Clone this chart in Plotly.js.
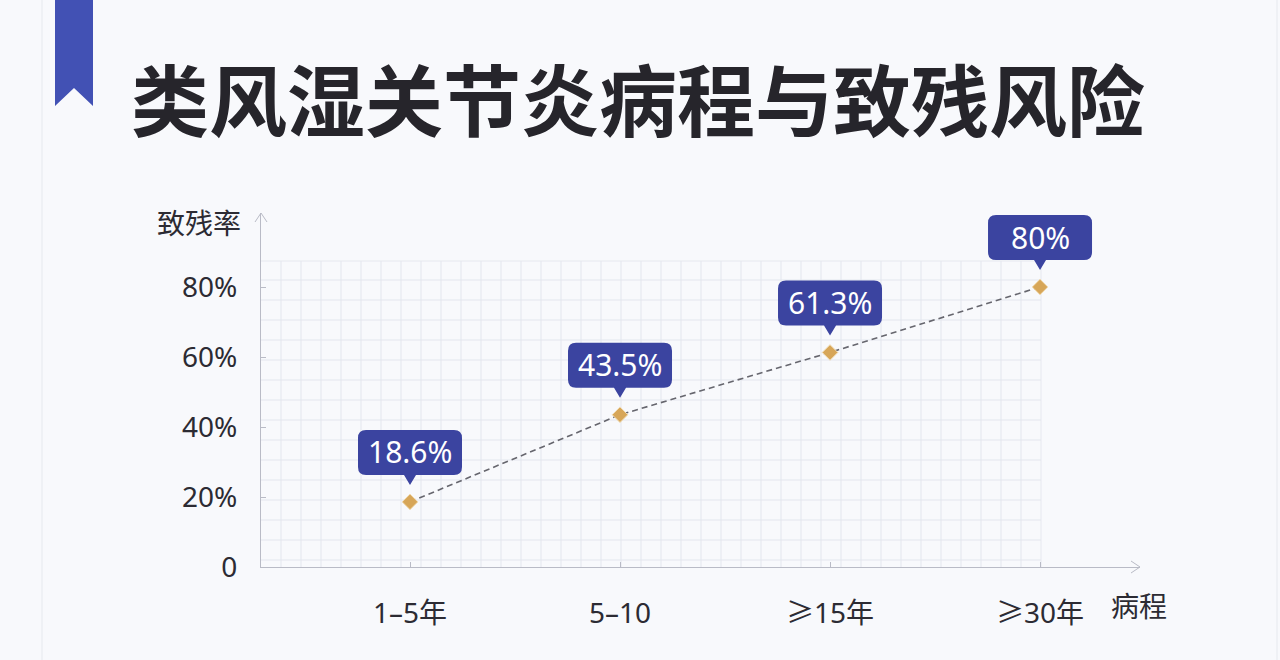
<!DOCTYPE html>
<html>
<head>
<meta charset="utf-8">
<script src="https://cdn.plot.ly/plotly-3.0.1.min.js"></script>
<style>
  html, body { margin: 0; padding: 0; background: #f8f9fc; }
  #chart { width: 1280px; height: 660px; }
</style>
</head>
<body>
<div id="chart"></div>
<script>
// ---- data ----
const titleText = '类风湿关节炎病程与致残风险';
const categories = ['1–5年', '5–10', '≥15年', '≥30年'];
const rates = [18.6, 43.5, 61.3, 80];
const rateLabels = ['18.6%', '43.5%', '61.3%', '80%'];
const yTickVals = [0, 20, 40, 60, 80];
const yTickText = ['0', '20%', '40%', '60%', '80%'];
const yAxisName = '致残率';
const xAxisName = '病程';

// ---- layout geometry (pixels) ----
const W = 1280, H = 660;
const M = { l: 261, r: 140, t: 213, b: 93 };
const PW = W - M.l - M.r, PH = H - M.t - M.b;
const px = v => (v - M.l) / PW;
const py = v => (H - M.b - v) / PH;

const FONT = '"Noto Sans CJK SC", "Noto Sans", sans-serif';
const FONT_NUM = '"Noto Sans", "Noto Sans CJK SC", sans-serif';
const AXIS_COLOR = '#b9bbc6';
const TEXT_COLOR = '#2c2b33';
const CALLOUT = '#3b44a0';

const shapes = [];
// paper grid
const gridColor = '#e3e6ee';
for (let x = 281; x <= 1041; x += 20) {
  shapes.push({ type: 'line', xref: 'paper', yref: 'paper', layer: 'below',
    x0: px(x), x1: px(x), y0: py(567), y1: py(261),
    line: { color: x === 1041 ? '#e6e8ef' : gridColor, width: 1 } });
}
for (let y = 560; y >= 261; y -= 20) {
  shapes.push({ type: 'line', xref: 'paper', yref: 'paper', layer: 'below',
    x0: px(261), x1: px(1041), y0: py(y), y1: py(y),
    line: { color: gridColor, width: 1 } });
}
shapes.push({ type: 'line', xref: 'paper', yref: 'paper', layer: 'below',
  x0: px(261), x1: px(1041), y0: py(261), y1: py(261),
  line: { color: '#e6e8ef', width: 1 } });

// axis arrow heads
shapes.push({ type: 'path', xref: 'paper', yref: 'paper',
  xsizemode: 'pixel', ysizemode: 'pixel', xanchor: 1, yanchor: 0,
  path: 'M -9 6 L 0 0 L -9 -6', line: { color: AXIS_COLOR, width: 1 } });
shapes.push({ type: 'path', xref: 'paper', yref: 'paper',
  xsizemode: 'pixel', ysizemode: 'pixel', xanchor: 0, yanchor: 1,
  path: 'M -6 -9 L 0 0 L 6 -9', line: { color: AXIS_COLOR, width: 1 } });

// bookmark ribbon
shapes.push({ type: 'path', xref: 'paper', yref: 'paper', layer: 'above',
  path: `M ${px(55)} ${py(0)} L ${px(93)} ${py(0)} L ${px(93)} ${py(106)} L ${px(74)} ${py(88)} L ${px(55)} ${py(106)} Z`,
  fillcolor: '#4251b4', line: { width: 0 } });
// faint card edges
shapes.push({ type: 'line', xref: 'paper', yref: 'paper', layer: 'below',
  x0: px(42), x1: px(42), y0: py(0), y1: py(660), line: { color: '#eceef3', width: 1.5 } });
shapes.push({ type: 'line', xref: 'paper', yref: 'paper', layer: 'below',
  x0: px(1277), x1: px(1277), y0: py(0), y1: py(660), line: { color: '#eceef3', width: 1.5 } });

// callouts
const annotations = [];
categories.forEach((c, i) => {
  shapes.push({ type: 'path', xref: 'x', yref: 'y',
    xsizemode: 'pixel', ysizemode: 'pixel', xanchor: c, yanchor: rates[i],
    path: 'M 0 17 L 6 27 L 44 27 Q 52 27 52 35 L 52 64 Q 52 72 44 72 L -44 72 Q -52 72 -52 64 L -52 35 Q -52 27 -44 27 L -6 27 Z',
    fillcolor: CALLOUT, line: { width: 0 } });
  annotations.push({ x: c, y: rates[i], xref: 'x', yref: 'y', text: rateLabels[i],
    showarrow: false, yshift: 50, xanchor: 'center', yanchor: 'middle',
    font: { family: FONT_NUM, size: 30, color: '#ffffff' } });
});

annotations.push({ xref: 'paper', yref: 'paper', x: px(129), y: py(97),
  xanchor: 'left', yanchor: 'middle', showarrow: false, text: '<b>' + titleText + '</b>',
  font: { family: FONT, size: 78, color: '#26252b' } });
annotations.push({ xref: 'paper', yref: 'paper', x: px(199), y: py(222),
  xanchor: 'center', yanchor: 'middle', showarrow: false, text: yAxisName,
  font: { family: FONT, size: 28, color: TEXT_COLOR } });
annotations.push({ xref: 'paper', yref: 'paper', x: px(1139), y: py(605),
  xanchor: 'center', yanchor: 'middle', showarrow: false, text: xAxisName,
  font: { family: FONT, size: 28, color: TEXT_COLOR } });

const trace = {
  type: 'scatter', mode: 'lines+markers', x: categories, y: rates,
  line: { color: '#66666e', width: 1.6, dash: '6px,4px' },
  marker: { symbol: 'diamond', size: 12, color: '#d7a658', line: { color: '#f1dcb4', width: 1 } },
  hoverinfo: 'skip', cliponaxis: false
};

const layout = {
  width: W, height: H,
  margin: M,
  paper_bgcolor: '#f8f9fc', plot_bgcolor: 'rgba(0,0,0,0)',
  showlegend: false,
  xaxis: {
    type: 'category', range: [-0.7095, 3.476], fixedrange: true,
    showline: true, linecolor: AXIS_COLOR, linewidth: 1,
    showgrid: false, zeroline: false,
    ticks: 'inside', ticklen: 5, tickcolor: AXIS_COLOR,
    ticklabelstandoff: 21,
    tickfont: { family: FONT_NUM, size: 28, color: TEXT_COLOR }
  },
  yaxis: {
    range: [0, PH / 3.5], fixedrange: true,
    showline: true, linecolor: AXIS_COLOR, linewidth: 1,
    showgrid: false, zeroline: false,
    tickmode: 'array', tickvals: yTickVals, ticktext: yTickText,
    ticks: 'inside', ticklen: 5, tickcolor: AXIS_COLOR,
    ticklabelstandoff: 17,
    tickfont: { family: FONT_NUM, size: 28, color: TEXT_COLOR }
  },
  shapes: shapes,
  annotations: annotations
};

Plotly.newPlot('chart', [trace], layout, { displayModeBar: false, staticPlot: true });
</script>
</body>
</html>
